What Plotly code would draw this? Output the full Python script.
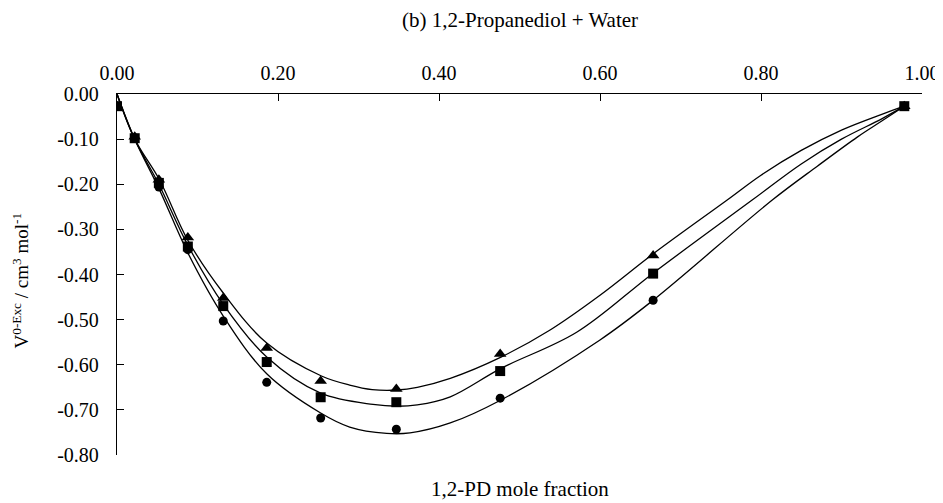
import plotly.graph_objects as go

# Measured points (1,2-PD mole fraction vs excess volume)
x_pts = [0.0, 0.022, 0.052, 0.088, 0.132, 0.186, 0.253, 0.347, 0.476, 0.666, 0.978]
tri_pts = [-0.027, -0.095, -0.190, -0.318, -0.452, -0.563, -0.636, -0.654, -0.576, -0.358, -0.027]
sq_pts = [-0.027, -0.098, -0.197, -0.338, -0.470, -0.594, -0.672, -0.683, -0.614, -0.398, -0.027]
circ_pts = [-0.027, -0.098, -0.206, -0.345, -0.503, -0.639, -0.718, -0.743, -0.674, -0.457, -0.027]

# Fitted curves
top_x = [0, 0.022, 0.053, 0.088, 0.132, 0.186, 0.254, 0.289, 0.317, 0.348, 0.373, 0.414, 0.477, 0.538, 0.600, 0.667, 0.758, 0.80, 0.85, 0.90, 0.95, 0.978]
top_y = [0, -0.100, -0.191, -0.324, -0.441, -0.552, -0.625, -0.645, -0.655, -0.656, -0.650, -0.630, -0.583, -0.523, -0.446, -0.353, -0.235, -0.180, -0.125, -0.080, -0.045, -0.027]
mid_x = [0, 0.022, 0.052, 0.088, 0.132, 0.186, 0.253, 0.318, 0.348, 0.373, 0.414, 0.477, 0.571, 0.666, 0.789, 0.85, 0.90, 0.95, 0.978]
mid_y = [0, -0.100, -0.200, -0.335, -0.466, -0.583, -0.663, -0.688, -0.692, -0.689, -0.671, -0.608, -0.528, -0.397, -0.235, -0.155, -0.100, -0.055, -0.027]
bot_x = [0, 0.022, 0.053, 0.088, 0.132, 0.186, 0.253, 0.289, 0.335, 0.364, 0.414, 0.477, 0.600, 0.666, 0.814, 0.87, 0.92, 0.95, 0.978]
bot_y = [0, -0.100, -0.213, -0.352, -0.492, -0.620, -0.707, -0.738, -0.752, -0.751, -0.729, -0.678, -0.545, -0.457, -0.235, -0.160, -0.095, -0.060, -0.027]

x_ticks = [0.0, 0.2, 0.4, 0.6, 0.8, 1.0]
y_ticks = [0.0, -0.1, -0.2, -0.3, -0.4, -0.5, -0.6, -0.7, -0.8]

FONT = "Liberation Serif"

fig = go.Figure()
for cx, cy in [(top_x, top_y), (mid_x, mid_y), (bot_x, bot_y)]:
    fig.add_trace(go.Scatter(x=cx, y=cy, mode="lines",
                             line=dict(color="black", width=1.3, shape="spline", smoothing=1.0),
                             showlegend=False, hoverinfo="skip"))

fig.add_trace(go.Scatter(x=x_pts, y=tri_pts, mode="markers",
                         marker=dict(symbol="triangle-up", size=11, color="black"), showlegend=False))
fig.add_trace(go.Scatter(x=x_pts, y=sq_pts, mode="markers",
                         marker=dict(symbol="square", size=10, color="black"), showlegend=False))
fig.add_trace(go.Scatter(x=x_pts, y=circ_pts, mode="markers",
                         marker=dict(symbol="circle", size=9, color="black"), showlegend=False))

fig.update_layout(
    width=935, height=495,
    margin=dict(l=109, r=21, t=86, b=48),
    paper_bgcolor="white", plot_bgcolor="white",
    font=dict(family=FONT, size=20, color="black"),
    xaxis=dict(side="top", range=[0, 1.0], tickvals=x_ticks,
               ticktext=[f"{v:.2f}" for v in x_ticks], automargin=False,
               showgrid=False, zeroline=False, showline=True, linecolor="black", linewidth=1.3,
               ticks="inside", ticklen=7, tickwidth=1.3, tickcolor="black",
               ticklabelstandoff=5, ticklabeloverflow="allow", tickfont=dict(size=20)),
    yaxis=dict(range=[-0.8, 0.0], tickvals=y_ticks,
               ticktext=[f"{v:.2f}" for v in y_ticks], automargin=False,
               showgrid=False, zeroline=False, showline=True, linecolor="black", linewidth=1.3,
               ticks="inside", ticklen=7, tickwidth=1.3, tickcolor="black",
               ticklabelstandoff=13, tickfont=dict(size=20)),
    annotations=[
        dict(text="(b) 1,2-Propanediol + Water", x=0.5, y=1, xref="paper", yref="paper",
             yshift=74, showarrow=False, xanchor="center", yanchor="middle",
             font=dict(size=21, family=FONT)),
        dict(text="1,2-PD mole fraction", x=0.5, y=0, xref="paper", yref="paper",
             yshift=-34, showarrow=False, xanchor="center", yanchor="middle",
             font=dict(size=21, family=FONT)),
        dict(text="V<sup>0-Exc</sup> / cm<sup>3</sup> mol<sup>-1</sup>", x=0, y=0.5,
             xref="paper", yref="paper", xshift=-97, yshift=-6, textangle=-90, showarrow=False,
             xanchor="center", yanchor="middle", font=dict(size=19, family=FONT)),
    ],
)

fig.write_html("out.html")
